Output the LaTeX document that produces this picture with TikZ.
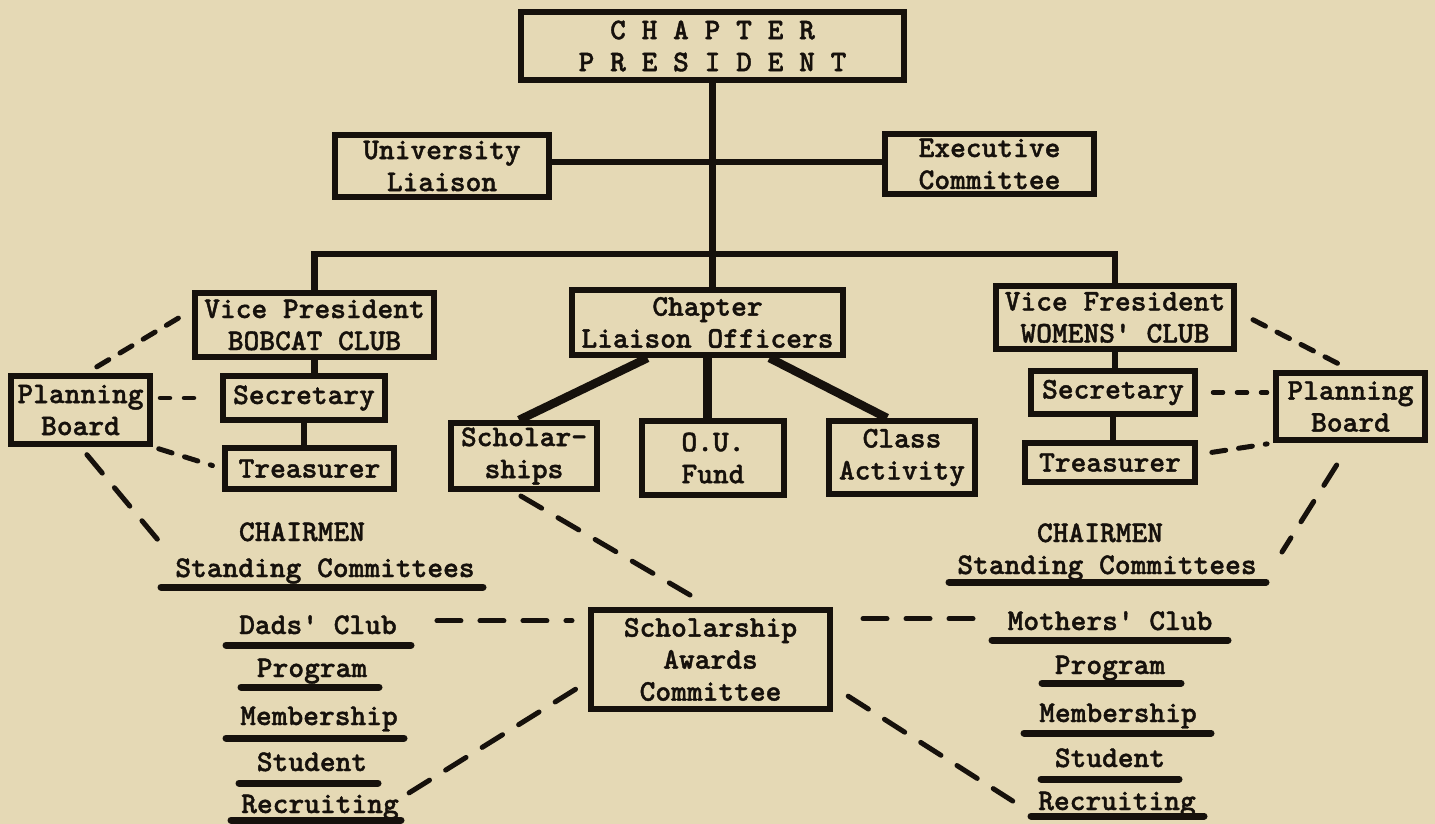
\documentclass[tikz,border=0pt]{standalone}
\usepackage{fontspec}
\usetikzlibrary{calc}
\definecolor{paper}{RGB}{229,217,181}
\definecolor{ink}{RGB}{22,17,12}
\newfontfamily\twfamily{lmmonolt10-bold.otf}[FakeBold=1.3]
\newcommand{\twfont}{\twfamily\fontsize{30}{32}\selectfont}
\begin{document}
\begin{tikzpicture}[x=1pt,y=-1pt,
  every node/.style={font=\twfont, text=ink, inner sep=0pt, align=center},
  box/.style={draw=ink, line width=6pt, fill=paper},
  lbl/.style={anchor=base},
  conn/.style={draw=ink, line width=6.5pt},
  heavy/.style={draw=ink, line width=8.5pt},
  sdsh/.style={draw=ink, line width=4.5pt, line cap=round, dash pattern=on 10pt off 14pt},
  mdsh/.style={draw=ink, line width=5pt, line cap=round, dash pattern=on 14pt off 13pt},
  ldsh/.style={draw=ink, line width=5pt, line cap=round, dash pattern=on 24pt off 19pt},
  uline/.style={draw=ink, line width=7pt, line cap=round}]
\fill[paper] (0,0) rectangle (1435,824);
\useasboundingbox (0,0) rectangle (1435,824);

% boxes
\node[box, minimum width=383pt, minimum height=68pt] (cp) at (712.5,46) {C H A P T E R\\P R E S I D E N T};
\node[box, minimum width=214pt, minimum height=62pt] (ul) at (442,166) {University\\Liaison};
\node[box, minimum width=209pt, minimum height=60pt] (ec) at (989.5,164) {Executive\\Committee};
\node[box, minimum width=239pt, minimum height=64pt] (vpl) at (314.5,325) {Vice President\\BOBCAT CLUB};
\node[box, minimum width=271pt, minimum height=65pt] (clo) at (707.5,322.5) {Chapter\\Liaison Officers};
\node[box, minimum width=238pt, minimum height=63pt] (vpr) at (1115,317.5) {Vice Fresident\\WOMENS' CLUB};
\node[box, minimum width=162pt, minimum height=44pt] (secl) at (304,398) {Secretary};
\node[box, minimum width=169pt, minimum height=41pt] (treasl) at (309.5,468.5) {Treasurer};
\node[box, minimum width=139pt, minimum height=68pt] (pbl) at (80.5,410) {Planning\\Board};
\node[box, minimum width=164pt, minimum height=43pt] (secr) at (1113,392.5) {Secretary};
\node[box, minimum width=170pt, minimum height=39pt] (treasr) at (1110,462.5) {Treasurer};
\node[box, minimum width=149pt, minimum height=67pt] (pbr) at (1350.5,406.5) {Planning\\Board};
\node[box, minimum width=146pt, minimum height=66pt] (schol) at (524,456) {Scholar-\\ships};
\node[box, minimum width=142pt, minimum height=74pt] (ouf) at (713,458) {O.U.\\Fund};
\node[box, minimum width=146pt, minimum height=73pt] (cla) at (902,457.5) {Class\\Activity};
\node[box, minimum width=239pt, minimum height=99pt] (sac) at (710.5,659.5) {Scholarship\\Awards\\Committee};

% left list
\node[lbl] (chl) at (302,541) {CHAIRMEN};
\node[lbl] (stl) at (325,577) {Standing Committees};
\node[lbl] (dads) at (318,634) {Dads' Club};
\node[lbl] (progl) at (312,677) {Program};
\node[lbl] (meml) at (319,725) {Membership};
\node[lbl] (stul) at (312,771) {Student};
\node[lbl] (recl) at (320,813) {Recruiting};
% right list
\node[lbl] (chr) at (1100,542) {CHAIRMEN};
\node[lbl] (str) at (1107,574) {Standing Committees};
\node[lbl] (moth) at (1110,630) {Mothers' Club};
\node[lbl] (progr) at (1110,674) {Program};
\node[lbl] (memr) at (1118,722) {Membership};
\node[lbl] (stur) at (1110,767) {Student};
\node[lbl] (recr) at (1117,810) {Recruiting};

% underlines
\draw[uline] (161,587) -- (483,587);
\draw[uline] (226,645) -- (411,645);
\draw[uline] (241,687) -- (379,687);
\draw[uline] (226,738) -- (404,738);
\draw[uline] (239,783) -- (378,783);
\draw[uline] (231,820) -- (401,820);
\draw[uline] (949,582) -- (1266,582);
\draw[uline] (992,640) -- (1228,640);
\draw[uline] (1042,683) -- (1181,683);
\draw[uline] (1024,733) -- (1211,733);
\draw[uline] (1041,779) -- (1179,779);
\draw[uline] (1031,816) -- (1204,816);

% solid connectors
\coordinate (hl) at (712,162);
\coordinate (bus) at (712,254);
\draw[conn] (cp.south) -- (cp.south |- clo.north);
\draw[conn] (hl -| ul.east) -- (hl -| ec.west);
\draw[conn] (vpl.north) -- (vpl.north |- bus) -- (vpr.north |- bus) -- (vpr.north);
\draw[conn] (vpl.south) -- (vpl.south |- secl.north);
\draw[conn] (secl.south) -- (secl.south |- treasl.north);
\draw[conn] (vpr.south) -- (vpr.south |- secr.north);
\draw[conn] (secr.south) -- (secr.south |- treasr.north);
\draw[heavy] ([xshift=-60pt]clo.south) -- ([xshift=-5pt]schol.north);
\draw[heavy] (clo.south) -- (clo.south |- ouf.north);
\draw[heavy] ([xshift=62pt]clo.south) -- ([xshift=-15pt]cla.north);

% dashed connectors, left
\draw[mdsh, shorten <=12pt, shorten >=5pt] ([xshift=6pt]pbl.north) -- ([yshift=15pt]vpl.west);
\draw[sdsh, shorten <=7pt, shorten >=18pt] (pbl.east |- secl.west) -- (secl.west);
\draw[mdsh, shorten <=6pt, shorten >=10pt] (pbl.south east) -- (treasl.west);
\coordinate (lfree) at (168,552);
\draw[ldsh, shorten <=10pt] (pbl.south) -- (lfree);
% dashed connectors, right
\draw[mdsh, shorten <=18pt, shorten >=6pt] ([yshift=6pt]vpr.east) -- (pbr.north);
\draw[sdsh, shorten <=15pt, shorten >=6pt] (secr.east) -- (secr.east -| pbr.west);
\draw[mdsh, shorten <=14pt, shorten >=6pt] ([yshift=8pt]treasr.east) -- (pbr.south west);
\coordinate (rfree) at (1282,552);
\draw[ldsh, shorten <=26pt] (pbr.south) -- (rfree);
% dashed connectors, scholarship awards committee
\draw[ldsh, shorten <=8pt, shorten >=6pt] ([xshift=-10pt]schol.south) -- (sac.north);
\coordinate (d1) at ([yshift=4pt]dads.east);
\draw[ldsh, shorten <=40pt, shorten >=16pt] (d1) -- (d1 -| sac.west);
\draw[ldsh, shorten <=12pt, shorten >=14pt] ([yshift=8pt]recl.east) -- ([yshift=-22pt]sac.west);
\coordinate (m1) at ([yshift=2pt]moth.west);
\draw[ldsh, shorten <=30pt, shorten >=27pt] (m1 -| sac.east) -- (m1);
\draw[ldsh, shorten <=18pt, shorten >=30pt] ([yshift=-27pt]sac.east) -- ([yshift=-13pt]recr.west);
\end{tikzpicture}
\end{document}
